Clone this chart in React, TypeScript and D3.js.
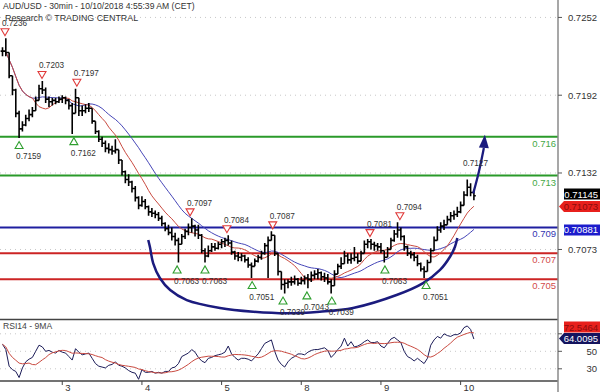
import React from "react";
import * as d3 from "d3";

// ---- data (prices as pips above 0.7000, hourly bars) ----
const BASE = 0.7;
const PIP = 0.0001;

const highs = [229,236,225,207,197,180,172,177,181,183,191,200,203,198,191,190,190,191,192,191,189,186,197,190,184,185,186,181,172,165,160,157,155,153,158,150,142,134,131,126,122,114,114,112,107,105,103,102,99,94,92,90,86,82,85,89,93,97,92,92,85,74,76,78,78,79,81,82,84,80,72,71,70,69,67,63,66,69,72,78,83,87,84,70,55,50,50,52,53,51,52,53,54,56,57,58,56,55,54,50,57,62,67,72,70,70,75,70,72,80,81,81,79,78,78,71,75,82,88,94,90,84,76,72,71,69,63,60,65,74,83,91,94,96,99,102,103,106,110,118,127,124,119];
const lows = [222,222,205,192,175,159,164,168,172,175,180,189,193,186,183,184,185,186,186,185,181,162,182,176,176,178,179,170,162,156,152,148,147,146,147,139,130,124,122,117,110,104,106,104,99,98,97,95,91,87,84,80,76,63,77,81,84,86,83,81,70,63,67,71,72,73,74,75,76,69,65,64,64,63,59,51,60,63,65,69,51,80,68,53,42,39,43,45,46,45,46,46,43,48,50,50,49,48,46,39,48,55,58,63,62,62,64,62,64,71,74,73,72,72,70,63,67,73,79,82,80,72,68,66,64,60,56,51,56,66,74,82,86,88,92,94,96,98,101,108,114,114,111];
const closes = [226,225,207,196,178,166,169,174,177,180,188,197,196,189,187,188,187,189,190,188,184,178,190,180,180,182,182,172,164,158,155,151,150,149,150,142,133,127,125,120,113,107,110,106,102,101,100,97,93,89,86,83,80,77,83,87,90,91,88,84,72,68,72,75,74,77,79,80,78,71,68,67,68,65,61,60,64,67,70,76,80,84,70,56,46,47,48,48,50,47,49,51,50,53,54,55,52,51,48,45,54,60,62,68,65,66,67,64,70,77,79,77,76,75,72,67,73,80,85,88,83,75,70,69,67,62,58,56,63,72,80,88,91,92,96,99,100,102,107,115,121,117,114.5];
const rsi14 = [58,52,33,29,27,20,31,38,41,43,50,57,55,50,51,49,48,51,49,48,44,40,53,49,46,47,48,42,36,33,32,31,34,35,38,34,33,31,28,26,25,18,29,26,26,27,25,26,25,27,27,31,32,36,44,46,48,52,49,43,39,37,42,43,45,46,47,49,56,47,43,40,42,42,41,39,43,47,53,59,61,63,50,40,35,32,38,42,44,47,47,46,49,51,52,52,53,54,51,43,47,52,56,65,56,61,55,56,58,61,63,60,60,61,56,54,59,64,66,63,60,50,44,42,39,42,39,36,42,57,63,67,65,70,68,67,69,69,71,77,79,75,64];

const dayTickIndex = [18, 42, 66, 90, 114, 138];
const dayTickLabels = ["3", "4", "5", "8", "9", "10"];
const priceTicks = [0.7252, 0.7192, 0.7132, 0.7073];
const rsiGrid = [70, 50, 30];
const rsiTickLabels = [50, 30];

const levelValues = [0.716, 0.713, 0.709, 0.707, 0.705];
const levelLabels = ["0.716", "0.713", "0.709", "0.707", "0.705"];
const levelKinds = ["res", "res", "pivot", "sup", "sup"];

const highMarkIdx = [0.75, 11.9, 22.4, 56.5, 67.6, 81.4, 110.7, 119.7];
const highMarkVal = [236, 203, 197, 97, 84, 87, 81, 94];
const lowMarkIdx = [5.0, 21.5, 52.6, 61.0, 75.2, 84.5, 91.7, 99.2, 115.2, 127.6];
const lowMarkVal = [159, 162, 63, 63, 51, 39, 43, 39, 63, 51];
const targetIdx = 139.6;
const targetVal = 127;

// cup (rounded bottom) drawn through these (bar index, pips)
const cupIdx = [43.9, 44.4, 45.4, 47.4, 50.5, 55.5, 65.5, 75.5, 85.6, 95.6, 105.6, 118.7, 126.7, 131.8, 134.8, 136.3, 137.0];
const cupVal = [80.3, 75.1, 62.3, 51.0, 41.7, 34.0, 27.9, 25.0, 23.8, 25.0, 27.9, 37.9, 47.1, 57.2, 67.4, 75.1, 81.9];
// projection arrow
const arrowIdx = [141.8, 143.5, 145.0];
const arrowVal = [116.3, 133.0, 151.3];
const arrowTip = { i: 145.3, v: 161.5 };

const lastPrice = 0.71145;
const redMALast = 0.71073;
const blueMALast = 0.70881;
const rsiMALastLabel = 72.5464;
const rsiLastLabel = 64.0095;

// ---- helpers ----
const sma = (arr: number[], n: number) =>
  arr.map((_, i) => d3.mean(arr.slice(Math.max(0, i - n + 1), i + 1)) as number);

const FONT = "'Liberation Sans', Arial, sans-serif";
const GREEN = "#2a9a2a";
const BLUE = "#1f1fa0";
const RED = "#cc2424";

export default function App() {
  const W = 600, H = 392;
  const plotRight = 558;
  const mainBottom = 319;
  const rsiBottom = 381;

  const x = d3.scaleLinear().domain([0, 142]).range([2.5, 473.9]);
  const y = d3.scaleLinear().domain([0.716, 0.705]).range([136.7, 279.3]);
  const yp = (v: number) => y(BASE + v * PIP);
  const yr = d3.scaleLinear().domain([70, 30]).range([333.8, 368.8]);

  // bars
  let barPath = "";
  closes.forEach((c, i) => {
    const o = i > 0 ? closes[i - 1] : c;
    const hi = Math.max(highs[i], o, c);
    const lo = Math.min(lows[i], o, c);
    const px = x(i);
    barPath += `M${px},${yp(hi)}V${yp(lo)}`;
    barPath += `M${px - 1.9},${yp(o)}H${px}`;
    barPath += `M${px},${yp(c)}H${px + 1.9}`;
  });

  const maRed = sma(closes, 10);
  const maBlue = sma(closes, 20);
  const priceLine = d3.line<number>().x((_, i) => x(i)).y((v) => yp(v));
  const rsiMA = sma(rsi14, 9);
  const rsiLine = d3.line<number>().x((_, i) => x(i)).y((v) => yr(v));

  const cupLine = d3
    .line<number>()
    .x((_, k) => x(cupIdx[k]))
    .y((_, k) => yp(cupVal[k]))
    .curve(d3.curveCatmullRom.alpha(0.5));
  const arrowLine = d3
    .line<number>()
    .x((_, k) => x(arrowIdx[k]))
    .y((_, k) => yp(arrowVal[k]))
    .curve(d3.curveCatmullRom.alpha(0.5));

  // arrow head
  const tx = x(arrowTip.i), ty = yp(arrowTip.v);
  const bx = x(arrowIdx[2]), by = yp(arrowVal[2]);
  const dx = tx - bx, dy = ty - by;
  const len = Math.hypot(dx, dy);
  const nx = -dy / len, ny = dx / len;
  const headPts = `${tx},${ty} ${bx + nx * 5},${by + ny * 5} ${bx - nx * 5},${by - ny * 5}`;

  const levelColor = (k: string) => (k === "res" ? GREEN : k === "pivot" ? BLUE : RED);
  const levelTextColor = (k: string) => (k === "res" ? "#45a845" : k === "pivot" ? "#3434b0" : "#d24a4a");

  // right-side value tags with simple de-overlap
  const placeTags = (tags: { y: number; [k: string]: any }[], h: number) => {
    const s = [...tags].sort((a, b) => a.y - b.y);
    for (let k = 1; k < s.length; k++) {
      const gap = s[k].y - s[k - 1].y;
      if (gap < h) {
        const d = (h - gap) / 2;
        s[k - 1].y -= d;
        s[k].y += d;
      }
    }
    return s;
  };
  const priceTags = placeTags(
    [
      { y: y(lastPrice), text: lastPrice.toFixed(5), bg: "#000", fg: "#fff", arrow: false },
      { y: y(redMALast), text: redMALast.toFixed(5), bg: "#e8201c", fg: "#8a0d0d", arrow: true },
      { y: y(blueMALast), text: blueMALast.toFixed(5), bg: "#1c1ccc", fg: "#fff", arrow: false },
    ],
    12.5
  );
  const rsiTags = placeTags(
    [
      { y: yr(rsiMALastLabel) - 3, text: rsiMALastLabel.toFixed(4), bg: "#e8201c", fg: "#8a0d0d", arrow: false },
      { y: yr(rsiLastLabel) - 2, text: rsiLastLabel.toFixed(4), bg: "#14145e", fg: "#fff", arrow: true },
    ],
    11.5
  );

  const renderTag = (t: any, key: string) => {
    const h = 11;
    const x0 = 564;
    const pts = t.arrow
      ? `${x0 - 5},${t.y} ${x0},${t.y - h / 2} ${W},${t.y - h / 2} ${W},${t.y + h / 2} ${x0},${t.y + h / 2}`
      : `${x0},${t.y - h / 2} ${W},${t.y - h / 2} ${W},${t.y + h / 2} ${x0},${t.y + h / 2}`;
    return (
      <g key={key}>
        <polygon points={pts} fill={t.bg} />
        <text x={598} y={t.y + 3.5} textAnchor="end" fontSize={9.5} fill={t.fg} fontFamily={FONT}>
          {t.text}
        </text>
      </g>
    );
  };

  const ANN = 8.2;

  return (
    <svg
      width={W}
      height={H}
      viewBox={`0 0 ${W} ${H}`}
      style={{ position: "absolute", left: 0, top: 0, background: "#fff" }}
    >
      <defs>
        <clipPath id="mainClip">
          <rect x={0} y={0} width={plotRight} height={mainBottom} />
        </clipPath>
        <clipPath id="rsiClip">
          <rect x={0} y={mainBottom} width={plotRight} height={rsiBottom - mainBottom} />
        </clipPath>
      </defs>
      <rect x={0} y={0} width={W} height={H} fill="#fff" />

      {/* main grid */}
      {priceTicks.map((t) => (
        <line key={t} x1={0} x2={plotRight} y1={y(t)} y2={y(t)} stroke="#c8c8c8" strokeDasharray="1,4" />
      ))}

      <g clipPath="url(#mainClip)">
        {/* levels */}
        {levelValues.map((v, k) => (
          <line key={v} x1={0} x2={plotRight} y1={y(v)} y2={y(v)} stroke={levelColor(levelKinds[k])} strokeWidth={2} />
        ))}
        {/* moving averages */}
        <path d={priceLine(maBlue) || ""} fill="none" stroke="#4646b8" strokeWidth={1} />
        <path d={priceLine(maRed) || ""} fill="none" stroke="#c94a40" strokeWidth={1} />
        {/* bars */}
        <path d={barPath} fill="none" stroke="#000" strokeWidth={1.6} />
        {/* cup */}
        <path d={cupLine(cupIdx) || ""} fill="none" stroke="#1b1b7e" strokeWidth={2.5} />
        {/* arrow */}
        <path d={arrowLine(arrowIdx) || ""} fill="none" stroke="#1b1b7e" strokeWidth={2.3} />
        <polygon points={headPts} fill="#1b1b7e" />
        {/* level labels */}
        {levelValues.map((v, k) => (
          <text key={"l" + v} x={556} y={y(v) + 10} textAnchor="end" fontSize={9.5} fontFamily={FONT} fill={levelTextColor(levelKinds[k])}>
            {levelLabels[k]}
          </text>
        ))}
        {/* high markers */}
        {highMarkIdx.map((iv, k) => {
          const px = x(iv);
          const cy = yp(highMarkVal[k]) - 6;
          return (
            <g key={"h" + k}>
              <polygon
                points={`${px - 4},${cy - 3.5} ${px + 4},${cy - 3.5} ${px},${cy + 3.5}`}
                fill="#fff"
                stroke="#e03a3a"
                strokeWidth={1.1}
              />
              <text x={px - 3} y={yp(highMarkVal[k]) - 12.5} fontSize={ANN} fontFamily={FONT} fill="#333">
                {(BASE + highMarkVal[k] * PIP).toFixed(4)}
              </text>
            </g>
          );
        })}
        {/* low markers */}
        {lowMarkIdx.map((iv, k) => {
          const px = x(iv);
          const cy = yp(lowMarkVal[k]) + 7;
          return (
            <g key={"lo" + k}>
              <polygon
                points={`${px - 4},${cy + 3.5} ${px + 4},${cy + 3.5} ${px},${cy - 3.5}`}
                fill="#fff"
                stroke="#2f9f2f"
                strokeWidth={1.1}
              />
              <text x={px - 3} y={yp(lowMarkVal[k]) + 21.5} fontSize={ANN} fontFamily={FONT} fill="#333">
                {(BASE + lowMarkVal[k] * PIP).toFixed(4)}
              </text>
            </g>
          );
        })}
        <text x={x(targetIdx) - 3} y={yp(targetVal) - 13} fontSize={ANN} fontFamily={FONT} fill="#333">
          {(BASE + targetVal * PIP).toFixed(4)}
        </text>
      </g>

      {/* title */}
      <text x={3} y={9} fontSize={8.6} fontFamily={FONT} fill="#333">
        AUD/USD - 30min - 10/10/2018 4:55:39 AM (CET)
      </text>
      <text x={5} y={20.5} fontSize={8.9} fontFamily={FONT} fill="#333">
        Research © TRADING CENTRAL
      </text>

      {/* RSI panel */}
      {rsiGrid.map((t) => (
        <line key={"rg" + t} x1={0} x2={plotRight} y1={yr(t)} y2={yr(t)} stroke="#c8c8c8" strokeDasharray="1,4" />
      ))}
      <g clipPath="url(#rsiClip)">
        <path d={rsiLine(rsi14) || ""} fill="none" stroke="#1c1c58" strokeWidth={1} />
        <path d={rsiLine(rsiMA) || ""} fill="none" stroke="#c94a40" strokeWidth={1} />
      </g>
      <text x={3} y={329} fontSize={8.6} fontFamily={FONT} fill="#444">
        RSI14 - 9MA
      </text>

      {/* frame */}
      <line x1={0} x2={plotRight} y1={mainBottom + 0.5} y2={mainBottom + 0.5} stroke="#444" strokeWidth={1.3} />
      <line x1={0} x2={plotRight} y1={rsiBottom} y2={rsiBottom} stroke="#444" strokeWidth={1.3} />
      <line x1={plotRight} x2={plotRight} y1={0} y2={H} stroke="#8a8a8a" strokeWidth={1.5} />

      {/* right axis ticks */}
      {priceTicks.map((t) => (
        <g key={"pt" + t}>
          <line x1={plotRight} x2={plotRight + 4} y1={y(t)} y2={y(t)} stroke="#555" />
          <text x={597} y={y(t) + 3.5} textAnchor="end" fontSize={9.5} fontFamily={FONT} fill="#333">
            {t.toFixed(4)}
          </text>
        </g>
      ))}
      {rsiGrid.map((t) => (
        <line key={"rt" + t} x1={plotRight} x2={plotRight + 4} y1={yr(t)} y2={yr(t)} stroke="#555" />
      ))}
      {rsiTickLabels.map((t) => (
        <text key={"rl" + t} x={597} y={yr(t) + 3.5} textAnchor="end" fontSize={9.5} fontFamily={FONT} fill="#333">
          {t}
        </text>
      ))}

      {/* x axis */}
      {dayTickIndex.map((idx, k) => (
        <g key={"d" + idx}>
          <line x1={x(idx)} x2={x(idx)} y1={rsiBottom} y2={rsiBottom + 4} stroke="#444" />
          <text x={x(idx) + 3} y={391} fontSize={9.5} fontFamily={FONT} fill="#333">
            {dayTickLabels[k]}
          </text>
        </g>
      ))}

      {/* value tags */}
      {priceTags.map((t, k) => renderTag(t, "p" + k))}
      {rsiTags.map((t, k) => renderTag(t, "r" + k))}
    </svg>
  );
}
